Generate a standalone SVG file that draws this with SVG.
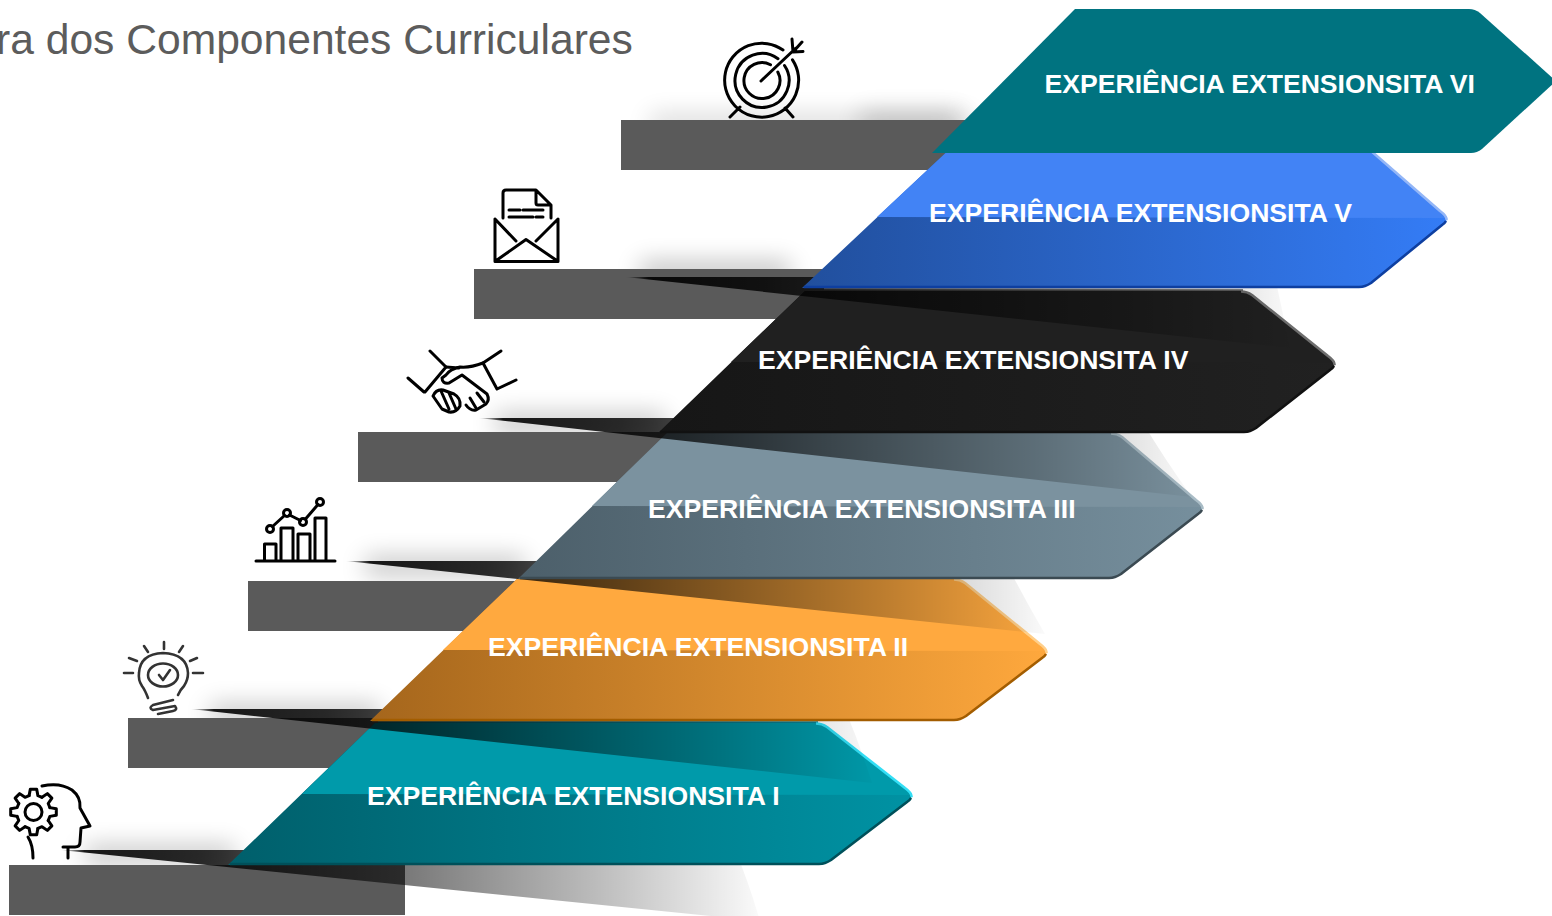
<svg xmlns="http://www.w3.org/2000/svg" xmlns:xlink="http://www.w3.org/1999/xlink" width="1552" height="916" viewBox="0 0 1552 916">
<style>
text{font-family:"Liberation Sans",Arial,sans-serif}
.l{font-size:26.6px;font-weight:700;fill:#fff}
.t{font-size:42.6px;fill:#5c5c5c}
.bar{fill:#5a5a5a}
.i{fill:none;stroke:#000;stroke-width:3;stroke-linecap:round;stroke-linejoin:round}
.i2{fill:none;stroke:#333;stroke-width:2.6;stroke-linecap:round;stroke-linejoin:round}
.glow{fill:#000;filter:url(#b)}
.sh{fill:url(#s)}
.hi,.lo{fill:none;stroke-width:2.6;stroke-linejoin:round}
</style>
<defs>
<filter id="b" x="-40%" y="-400%" width="180%" height="900%"><feGaussianBlur stdDeviation="12"/></filter>
<linearGradient id="s"><stop offset="0" stop-color="#000" stop-opacity="0"/><stop offset=".035" stop-color="#000" stop-opacity=".9"/><stop offset=".2" stop-color="#000" stop-opacity=".82"/><stop offset=".5" stop-color="#000" stop-opacity=".52"/><stop offset=".77" stop-color="#000" stop-opacity=".26"/><stop offset="1" stop-color="#000" stop-opacity=".02"/></linearGradient>
<linearGradient id="g1"><stop offset="0" stop-color="#005f6b"/><stop offset="1" stop-color="#0092a3"/></linearGradient>
<linearGradient id="g2"><stop offset="0" stop-color="#a5661c"/><stop offset="1" stop-color="#fea83d"/></linearGradient>
<linearGradient id="g3"><stop offset="0" stop-color="#4c5f6a"/><stop offset="1" stop-color="#768f9d"/></linearGradient>
<linearGradient id="g4"><stop offset="0" stop-color="#161616"/><stop offset="1" stop-color="#212121"/></linearGradient>
<linearGradient id="g5"><stop offset="0" stop-color="#214f9d"/><stop offset="1" stop-color="#347cf6"/></linearGradient>
<path id="tooth" d="M-4.4,-16.4L-3.2,-22.8L3.2,-22.8L4.4,-16.4L8.5,-14.7"/>
</defs>

<text class="t" x="-4" y="54">ra dos Componentes Curriculares</text>

<g id="glows">
<rect class="glow" x="85" y="846" width="150" height="18" opacity=".25"/>
<rect class="glow" x="210" y="705" width="170" height="18" opacity=".25"/>
<rect class="glow" x="365" y="557" width="160" height="18" opacity=".25"/>
<rect class="glow" x="495" y="414" width="170" height="18" opacity=".25"/>
<rect class="glow" x="640" y="262" width="150" height="20" opacity=".26"/>
<rect class="glow" x="650" y="114" width="320" height="20" opacity=".15"/>
<rect class="glow" x="860" y="112" width="100" height="24" opacity=".18"/>
</g>

<g id="step-1"><rect class="bar" x="9" y="865" width="396" height="50"/></g>
<g id="step-2"><rect class="bar" x="128" y="718" width="250" height="50"/></g>
<g id="step-3"><rect class="bar" x="248" y="581" width="300" height="50"/></g>
<g id="step-4"><rect class="bar" x="358" y="432" width="320" height="50"/></g>
<g id="step-5"><rect class="bar" x="474" y="269" width="350" height="50"/></g>
<g id="step-6"><rect class="bar" x="621" y="120" width="360" height="50"/></g>

<g id="icon-1">
<g class="i" transform="translate(33.5 812)">
<use xlink:href="#tooth" href="#tooth"/><use xlink:href="#tooth" href="#tooth" transform="rotate(45)"/><use xlink:href="#tooth" href="#tooth" transform="rotate(90)"/><use xlink:href="#tooth" href="#tooth" transform="rotate(135)"/><use xlink:href="#tooth" href="#tooth" transform="rotate(180)"/><use xlink:href="#tooth" href="#tooth" transform="rotate(225)"/><use xlink:href="#tooth" href="#tooth" transform="rotate(270)"/><use xlink:href="#tooth" href="#tooth" transform="rotate(315)"/>
<circle r="8.5"/>
</g>
<path class="i" d="M42,786Q60,782 72,790Q81,797 80,808L90,826L81,828L80,842Q80,847 75,847L63,847M68,847V858M28,837Q33,845 33,858"/>
</g>
<g id="icon-2">
<path class="i2" d="M164,642V649M144,646L148,652M183,646L179,652M129,658L137,661M197,658L190,661M124,673H133M193,673H203"/>
<path class="i2" d="M148,698Q145,690 142,686Q138,680 139,673Q140,654 163,653Q187,654 188,673Q188,680 184,686Q180,690 178,695"/>
<ellipse class="i2" cx="163" cy="675" rx="15" ry="11.5"/>
<path class="i2" d="M159,675L163,680L170,670M173,700L153,705Q148,708 153,710L175,706Q178,710 173,711L158,714"/>
</g>
<g id="icon-3">
<path class="i" d="M256,561H335M264.500,561V544H276V561M281,561V528H293V561M298,561V534H310V561M315,561V518H326V561"/>
<path class="i" d="M272.500,526.500L284.500,515.500M289.500,515L300.500,520.500M305.500,519L318,504.500"/>
<circle class="i" cx="270" cy="529" r="3.500"/><circle class="i" cx="287" cy="513" r="3.500"/><circle class="i" cx="303" cy="522" r="3.500"/><circle class="i" cx="320" cy="502" r="3.500"/>
</g>
<g id="icon-4">
<path class="i" d="M430,351L446,367M408,378L424,392M446,367L425,392M501,351L483,363M516,380L497,389M483,363L497,389"/>
<path class="i" d="M446,367L459,368M483,363Q470,368 460,367Q450,369 446,375L442,378Q442,384 449,383L462,375L487,394Q490,400 486,404L476,410Q470,411 466,405"/>
<path class="i" stroke-width="2.600" d="M433,396Q436,389 443,390L454,394Q461,398 460,406Q456,413 449,412L442,409ZM441,391L449,409M449,393L456,409M470,398L476,408M477,393L484,402"/>
</g>
<g id="icon-5">
<path class="i" d="M495,219V261.500H558V219M495,219L516,241M558,219L536,241M497,260L526,239.500L556,260"/>
<path class="i" d="M503,218V193Q503,190 506,190H536L551,205V218M536,190V203Q536,205 538,205H551M509,210H520M523,210H543M509,217H533M536,217H543"/>
</g>
<g id="icon-6">
<path class="i" stroke-width="3.300" d="M783,50A37,37 0 1 0 792.500,59.800M778,58.700A27,27 0 1 0 784.500,65.500M770.500,64.700A18,18 0 1 0 777.800,72M761,81L796,48M792,39L793,52L803,51.500M802,42L793,52M730,117L740,107M793,117L785,108"/>
</g>

<g id="shadow-1"><path class="sh" d="M60,850H735Q748,880 760,921Z"/></g>
<g id="exp-1">
<path class="hi" stroke="#0c8090" stroke-width="5" d="M378,722.500H818"/>
<path fill="url(#g1)" d="M228,865L375,723H816Q822,723 827,727L905,788Q912,793 912,795Q912,798 908,802L831,860Q825,865 819,865Z"/>
<path fill="#009aaa" d="M302,794L375,723H816Q822,723 827,727L905,788Q911,792 912,795Z"/>
<path class="hi" stroke="#33def5" d="M816,723.500Q822,723.500 827,727L905,788Q912,793 911.500,797"/>
<path class="lo" stroke="#00505a" d="M911,798Q910,800 907,802L831,860Q825,864 819,864H230"/>
<text class="l" x="367" y="805">EXPERIÊNCIA EXTENSIONSITA I</text>
</g>

<g id="shadow-2"><path class="sh" d="M190,709H845Q860,745 872,783Z"/></g>
<g id="exp-2">
<path class="hi" stroke="#ffb95f" d="M520,580H956"/>
<path fill="url(#g2)" d="M370,721L517,579H954Q960,579 965,583L1040,644Q1047,649 1047,651Q1047,654 1043,658L966,716Q960,721 954,721Z"/>
<path fill="#ffa93f" d="M443,650L517,579H954Q960,579 965,583L1040,644Q1046,648 1047,651Z"/>
<path class="hi" stroke="#ffcf8a" d="M954,579.500Q960,579.500 965,583L1040,644Q1047,649 1046.500,653"/>
<path class="lo" stroke="#a35d00" d="M1046,654Q1045,656 1042,658L966,716Q960,720 954,720H372"/>
<text class="l" x="488" y="656">EXPERIÊNCIA EXTENSIONSITA II</text>
</g>

<g id="shadow-3"><path class="sh" d="M345,561H1005Q1025,600 1045,634Z"/></g>
<g id="exp-3">
<path fill="url(#g3)" d="M518,579L667,433H1111Q1117,433 1122,437L1196,500Q1203,505 1203,507Q1203,510 1199,514L1121,574Q1115,579 1109,579Z"/>
<path fill="#7b929f" d="M592,506L667,433H1111Q1117,433 1122,437L1196,500Q1202,504 1203,507Z"/>
<path class="hi" stroke="#a9bcc6" d="M1111,433.500Q1117,433.500 1122,437L1196,500Q1203,505 1202.500,509"/>
<path class="lo" stroke="#3b4a52" d="M1202,510Q1201,512 1198,514L1121,574Q1115,578 1109,578H520"/>
<text class="l" x="648" y="518">EXPERIÊNCIA EXTENSIONSITA III</text>
</g>

<g id="shadow-4"><path class="sh" d="M478,418H1140Q1165,460 1192,497Z"/></g>
<g id="exp-4">
<path class="hi" stroke="#5c5c5c" stroke-width="5" d="M808,290.500H1243"/>
<path fill="url(#g4)" d="M658,433L805,291H1241Q1247,291 1252,295L1328,356Q1335,361 1335,363Q1335,366 1331,370L1256,428Q1250,433 1244,433Z"/>
<path fill="#202020" d="M731,362L805,291H1241Q1247,291 1252,295L1328,356Q1334,360 1335,363Z"/>
<path class="hi" stroke="#6e6e6e" d="M1241,291.500Q1247,291.500 1252,295L1328,356Q1335,361 1334.500,365"/>
<path class="lo" stroke="#111" d="M1334,366Q1333,368 1330,370L1256,428Q1250,432 1244,432H660"/>
<text class="l" x="758" y="369">EXPERIÊNCIA EXTENSIONSITA IV</text>
</g>

<g id="shadow-5"><path class="sh" d="M625,277H1275Q1280,300 1290,348Z"/></g>
<g id="exp-5">
<path fill="url(#g5)" d="M802,288L953,146H1359Q1365,146 1370,150L1440,211Q1447,216 1447,218Q1447,221 1443,225L1371,283Q1365,288 1359,288Z"/>
<path fill="#4283f5" d="M877,217L953,146H1359Q1365,146 1370,150L1440,211Q1446,215 1447,218Z"/>
<path class="hi" stroke="#93b6f7" d="M1359,146.500Q1365,146.500 1370,150L1440,211Q1447,216 1446.500,220"/>
<path class="lo" stroke="#0e3fa0" d="M1446,221Q1445,223 1442,225L1371,283Q1365,287 1359,287H804"/>
<text class="l" x="929" y="222">EXPERIÊNCIA EXTENSIONSITA V</text>
</g>

<g id="exp-6">
<path fill="#007380" d="M932,153L1075,9H1469Q1475,9 1480,13L1556,81L1482,149Q1477,153 1471,153Z"/>
<text class="l" x="1044.500" y="93">EXPERIÊNCIA EXTENSIONSITA VI</text>
</g>
</svg>
